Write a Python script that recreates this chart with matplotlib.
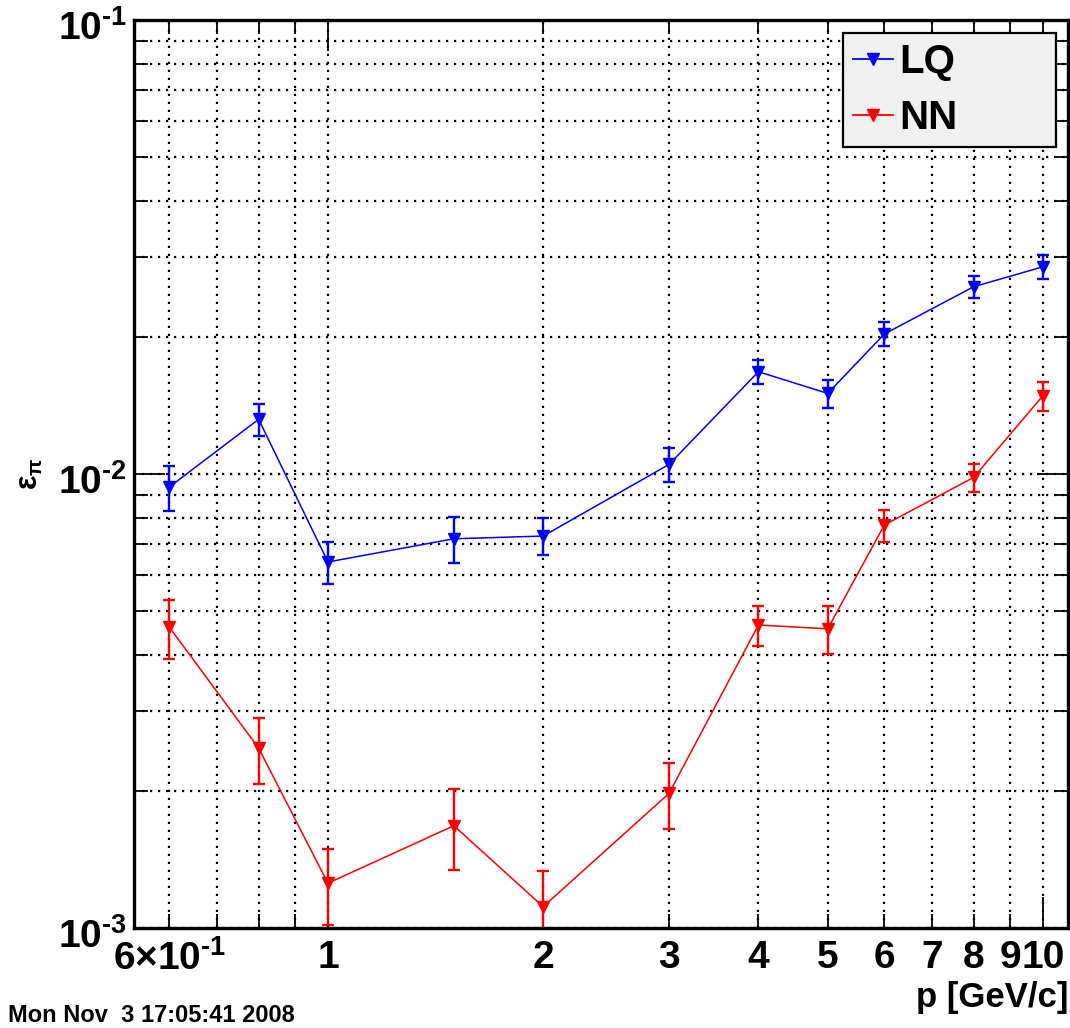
import matplotlib
matplotlib.use("Agg")
import matplotlib.pyplot as plt
from matplotlib.lines import Line2D
from matplotlib.transforms import ScaledTranslation

# ---------------- data ----------------
p = [0.6, 0.8, 1.0, 1.5, 2.0, 3.0, 4.0, 5.0, 6.0, 8.0, 10.0]
lq = [0.00936, 0.01320, 0.00640, 0.00720, 0.00730, 0.01050, 0.01680, 0.01505, 0.02034, 0.02585, 0.02860]
lq_err = [0.00107, 0.00105, 0.00068, 0.00083, 0.00068, 0.00089, 0.00103, 0.00107, 0.00124, 0.00142, 0.00174]
nn = [0.00460, 0.00249, 0.001255, 0.00168, 0.001114, 0.00198, 0.00465, 0.00456, 0.00772, 0.00983, 0.01488]
nn_err = [0.00068, 0.00041, 0.00024, 0.00034, 0.00022, 0.00033, 0.00048, 0.00055, 0.00062, 0.00070, 0.00110]

x_major = [1, 10]
x_major_labels = ["1", "10"]
x_minor = [0.6, 0.7, 0.8, 0.9, 2, 3, 4, 5, 6, 7, 8, 9]
x_minor_labels = [r"$6{\times}10^{\text{-1}}$", "", "", "", "2", "3", "4", "5", "6", "7", "8", "9"]
y_major = [1e-3, 1e-2, 1e-1]
y_major_labels = [r"$10^{\text{-3}}$", r"$10^{\text{-2}}$", r"$10^{\text{-1}}$"]
y_minor = [m * d for d in (1e-3, 1e-2) for m in range(2, 10)]

series_names = ["LQ", "NN"]
series_colors = ["#0000ff", "#ff0000"]
x_title = "p [GeV/c]"
y_title = r"$ε_{π}$"
date_text = "Mon Nov  3 17:05:41 2008"

# ---------------- style ----------------
plt.rcParams["font.family"] = ["Liberation Sans", "DejaVu Sans"]
plt.rcParams["font.weight"] = "bold"
plt.rcParams["mathtext.fontset"] = "custom"
plt.rcParams["mathtext.rm"] = "Liberation Sans:bold"
plt.rcParams["mathtext.bf"] = "Liberation Sans:bold"
plt.rcParams["mathtext.sf"] = "Liberation Sans:bold"
plt.rcParams["mathtext.it"] = "Liberation Sans"

W, H = 1070, 1028
fig = plt.figure(figsize=(W / 100, H / 100), dpi=100)
ax = fig.add_axes([134 / W, 1 - 928 / H, (1068 - 134) / W, (928 - 20) / H])

ax.set_xscale("log")
ax.set_yscale("log")
ax.set_xlim(0.5355, 10.84)
ax.set_ylim(1e-3, 1e-1)

handles = []
for yv, ev, col in ((lq, lq_err, series_colors[0]), (nn, nn_err, series_colors[1])):
    ax.errorbar(p, yv, yerr=ev, color=col, ecolor=col, lw=1.1, elinewidth=1.7,
                capsize=4.5, capthick=1.7, marker="v", markersize=8.5,
                markeredgecolor=col, markerfacecolor=col, zorder=3)
    handles.append(Line2D([], [], color=col, lw=1.3, marker="v", markersize=8.5,
                          markerfacecolor=col, markeredgecolor=col))

ax.set_xticks(x_major, x_major_labels)
ax.set_xticks(x_minor, x_minor_labels, minor=True)
ax.set_yticks(y_major, y_major_labels)
ax.set_yticks(y_minor, [""] * len(y_minor), minor=True)

ax.tick_params(which="both", direction="in", top=True, right=True, width=1.3,
               labelsize=28, colors="black")
ax.tick_params(which="major", length=22, pad=9)
ax.tick_params(which="minor", length=10, pad=9)
ax.tick_params(axis="y", which="major", pad=5)

# shift y tick labels slightly down, as in the reference
shift = ScaledTranslation(0, -5 / 100, fig.dpi_scale_trans)
for lbl in ax.get_yticklabels():
    lbl.set_transform(lbl.get_transform() + shift)

ax.grid(True, which="both", color="black", linestyle=(0, (1, 2.6)), linewidth=1.6, zorder=0)
ax.set_axisbelow(True)
for s in ax.spines.values():
    s.set_linewidth(2.4)
    s.set_zorder(5)

fig.text(1068 / W, 1 - 998 / H, x_title, ha="right", va="center", fontsize=25, weight="bold")
fig.text(30 / W, 1 - 474 / H, y_title, ha="center", va="center", fontsize=22, rotation=90,
         weight="normal")
fig.text(8 / W, 1 - 1016 / H, date_text, ha="left", va="center", fontsize=17, weight="bold")

leg = ax.legend(handles=handles, labels=series_names, loc="upper left",
                bbox_to_anchor=(843 / W, 1 - 151 / H, (1056 - 843) / W, (151 - 33) / H),
                bbox_transform=fig.transFigure, mode="expand", borderaxespad=0,
                prop={"weight": "bold", "size": 29}, fancybox=False,
                framealpha=1, facecolor="#f0f0f0", edgecolor="black",
                borderpad=0.25, labelspacing=0.45, handlelength=1.0, handletextpad=0.15)
leg.get_frame().set_linewidth(1.6)
leg.set_zorder(10)

fig.savefig("out.png", dpi=100)
